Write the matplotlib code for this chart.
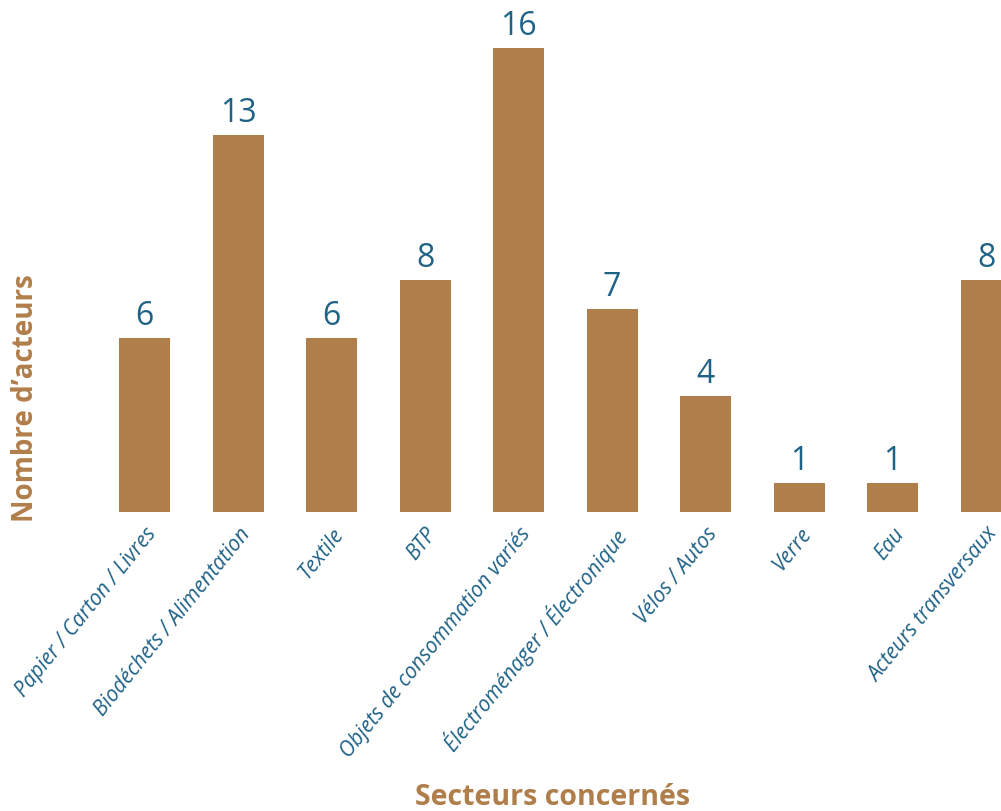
import matplotlib.pyplot as plt

# Données
secteurs = ['Papier / Carton / Livres', 'Biodéchets / Alimentation', 'Textile', 'BTP',
            'Objets de consommation variés', 'Électroménager / Électronique',
            'Vélos / Autos', 'Verre', 'Eau', 'Acteurs transversaux']
acteurs = [6, 13, 6, 8, 16, 7, 4, 1, 1, 8]

brun = '#B07E4A'
bleu = '#1F6286'

fig = plt.figure(figsize=(10.01, 8.12), dpi=100)
ax = fig.add_axes([0.0977, 0.3682, 0.9023, 0.6318])

x = range(len(secteurs))
bars = ax.bar(x, acteurs, width=0.545, color=brun)

# Valeurs au-dessus des barres
for xi, v in zip(x, acteurs):
    ax.text(xi, v + 0.2, str(v), ha='center', va='bottom', fontsize=23,
            color=bleu, family='Open Sans')

ax.set_xlim(-0.5, 9.16)
ax.set_ylim(0, 17.69)
ax.set_xticks(list(x))
ax.set_xticklabels(secteurs, rotation=51, ha='right', rotation_mode='anchor',
                   fontsize=15, color=bleu, family='Open Sans', style='italic')
ax.tick_params(axis='x', length=0, pad=8)
ax.set_yticks([])
for s in ax.spines.values():
    s.set_visible(False)

fig.text(0.025, 0.51, 'Nombre d\u2019acteurs', rotation=90, ha='center', va='center',
         fontsize=20, color=brun, fontweight='bold', family='Open Sans')
fig.text(0.552, 0.018, 'Secteurs concernés', ha='center', va='center',
         fontsize=20.5, color=brun, fontweight='bold', family='Open Sans')

fig.savefig('out.png', dpi=100)
